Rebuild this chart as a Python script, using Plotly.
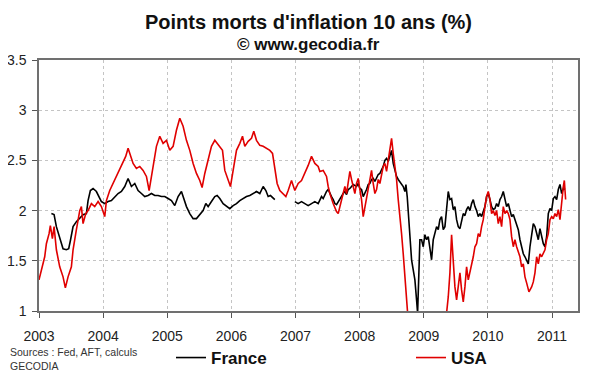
import plotly.graph_objects as go

# ---------------- data (decimal years) ----------------
france_t = [2003.193, 2003.235, 2003.271, 2003.323, 2003.375, 2003.427, 2003.463, 2003.489, 2003.531, 2003.583,
            2003.635, 2003.687, 2003.739, 2003.765, 2003.801, 2003.843, 2003.895, 2003.936, 2003.973, 2004.025,
            2004.077, 2004.129, 2004.181, 2004.233, 2004.285, 2004.337, 2004.389, 2004.441, 2004.493, 2004.545,
            2004.597, 2004.649, 2004.701, 2004.753, 2004.805, 2004.857, 2004.909, 2004.961, 2005.013, 2005.065,
            2005.117, 2005.169, 2005.221, 2005.247, 2005.299, 2005.351, 2005.403, 2005.455, 2005.507, 2005.559,
            2005.601, 2005.637, 2005.689, 2005.741, 2005.777, 2005.819, 2005.871, 2005.923, 2005.975, 2006.027,
            2006.079, 2006.131, 2006.183, 2006.235, 2006.287, 2006.339, 2006.391, 2006.443, 2006.495, 2006.537,
            2006.573, 2006.609, 2006.651, 2006.677, 2006.830, 2006.989, 2007.041, 2007.093, 2007.145, 2007.197,
            2007.249, 2007.301, 2007.353, 2007.379, 2007.405, 2007.431, 2007.457, 2007.483, 2007.509, 2007.535,
            2007.561, 2007.587, 2007.613, 2007.639, 2007.665, 2007.691, 2007.717, 2007.743, 2007.769, 2007.795,
            2007.821, 2007.847, 2007.873, 2007.899, 2007.951, 2007.977, 2008.003, 2008.029, 2008.055, 2008.081,
            2008.107, 2008.133, 2008.159, 2008.185, 2008.211, 2008.237, 2008.263, 2008.289, 2008.315, 2008.341,
            2008.367, 2008.393, 2008.419, 2008.445, 2008.471, 2008.497, 2008.523, 2008.549, 2008.575, 2008.601,
            2008.627, 2008.653, 2008.679, 2008.705, 2008.721, 2008.741, 2008.757, 2008.783, 2008.809, 2008.835,
            2008.861, 2008.887, 2008.903, 2008.923, 2008.939, 2008.965, 2008.991, 2009.017, 2009.043, 2009.069,
            2009.095, 2009.121, 2009.147, 2009.173, 2009.199, 2009.225, 2009.251, 2009.277, 2009.303, 2009.329,
            2009.355, 2009.381, 2009.407, 2009.433, 2009.459, 2009.485, 2009.511, 2009.537, 2009.563, 2009.589,
            2009.615, 2009.641, 2009.667, 2009.693, 2009.719, 2009.745, 2009.771, 2009.797, 2009.823, 2009.849,
            2009.875, 2009.901, 2009.927, 2009.953, 2009.979, 2010.005, 2010.031, 2010.057, 2010.083, 2010.109,
            2010.135, 2010.161, 2010.187, 2010.213, 2010.239, 2010.265, 2010.291, 2010.317, 2010.343, 2010.369,
            2010.395, 2010.421, 2010.447, 2010.473, 2010.499, 2010.525, 2010.551, 2010.577, 2010.603, 2010.629,
            2010.655, 2010.681, 2010.707, 2010.733, 2010.759, 2010.785, 2010.811, 2010.837, 2010.863, 2010.889,
            2010.915, 2010.941, 2010.967, 2010.993, 2011.019, 2011.045, 2011.071, 2011.097, 2011.123, 2011.149,
            2011.175, 2011.201]
france_v = [1.97, 1.96, 1.84, 1.74, 1.62, 1.61, 1.62, 1.70, 1.84, 1.89,
            1.92, 1.96, 1.97, 2.10, 2.20, 2.22, 2.19, 2.14, 2.09, 2.07,
            2.09, 2.10, 2.14, 2.17, 2.19, 2.24, 2.32, 2.24, 2.27, 2.20,
            2.17, 2.14, 2.15, 2.17, 2.15, 2.15, 2.14, 2.14, 2.12, 2.10,
            2.05, 2.14, 2.19, 2.14, 2.04, 1.97, 1.92, 1.92, 1.96, 2.00,
            2.07, 2.04, 2.09, 2.14, 2.15, 2.12, 2.07, 2.04, 2.02, 2.05,
            2.07, 2.10, 2.12, 2.14, 2.15, 2.17, 2.19, 2.17, 2.24, 2.20,
            2.14, 2.15, 2.12, 2.11, None, 2.09, 2.07, 2.09, 2.07, 2.05,
            2.07, 2.09, 2.07, 2.11, 2.14, 2.12, 2.16, 2.19, 2.21, 2.17,
            2.14, 2.11, 2.07, 2.06, 2.09, 2.12, 2.14, 2.17, 2.19, 2.16,
            2.21, 2.22, 2.24, 2.26, 2.24, 2.27, 2.22, 2.21, 2.14, 2.17,
            2.21, 2.26, 2.27, 2.31, 2.32, 2.29, 2.32, 2.36, 2.37, 2.40,
            2.44, 2.50, 2.52, 2.49, 2.54, 2.60, 2.47, 2.40, 2.34, 2.31,
            2.29, 2.27, 2.24, 2.19, 2.26, 2.14, 1.97, 1.71, 1.51, 1.41,
            1.31, 1.11, 0.98, 1.38, 1.71, 1.71, 1.64, 1.76, 1.71, 1.74,
            1.64, 1.51, 1.71, 1.77, 1.84, 1.81, 1.91, 1.94, 1.81, 1.84,
            2.04, 2.19, 2.11, 2.12, 2.01, 2.04, 1.91, 1.84, 1.82, 1.91,
            1.97, 1.95, 2.01, 2.04, 2.00, 2.07, 2.11, 2.04, 2.00, 1.94,
            1.97, 1.94, 1.99, 2.04, 2.14, 2.17, 2.11, 2.04, 2.01, 2.02,
            2.07, 2.04, 2.11, 2.14, 2.19, 2.11, 2.04, 2.07, 2.00, 1.94,
            1.96, 1.91, 1.87, 1.81, 1.71, 1.64, 1.57, 1.54, 1.51, 1.47,
            1.64, 1.77, 1.87, 1.84, 1.77, 1.71, 1.82, 1.74, 1.67, 1.64,
            1.74, 1.97, 2.02, 2.00, 2.12, 2.14, 2.11, 2.21, 2.26, 2.17,
            2.22, 2.21]

usa_t = [2003.000, 2003.037, 2003.089, 2003.115, 2003.157, 2003.177, 2003.209, 2003.235, 2003.271, 2003.323,
         2003.375, 2003.411, 2003.453, 2003.505, 2003.531, 2003.583, 2003.635, 2003.661, 2003.687, 2003.729,
         2003.765, 2003.817, 2003.869, 2003.921, 2003.973, 2004.025, 2004.051, 2004.103, 2004.155, 2004.207,
         2004.259, 2004.311, 2004.352, 2004.389, 2004.425, 2004.467, 2004.519, 2004.571, 2004.623, 2004.675,
         2004.717, 2004.753, 2004.779, 2004.831, 2004.883, 2004.935, 2004.987, 2005.039, 2005.091, 2005.143,
         2005.195, 2005.247, 2005.299, 2005.351, 2005.403, 2005.455, 2005.507, 2005.543, 2005.585, 2005.637,
         2005.689, 2005.741, 2005.777, 2005.819, 2005.861, 2005.897, 2005.949, 2005.985, 2006.027, 2006.079,
         2006.131, 2006.173, 2006.209, 2006.261, 2006.313, 2006.349, 2006.391, 2006.443, 2006.495, 2006.547,
         2006.599, 2006.641, 2006.677, 2006.713, 2006.755, 2006.807, 2006.849, 2006.885, 2006.937, 2006.989,
         2007.041, 2007.093, 2007.145, 2007.197, 2007.249, 2007.301, 2007.353, 2007.379, 2007.431, 2007.483,
         2007.509, 2007.535, 2007.587, 2007.639, 2007.665, 2007.691, 2007.743, 2007.769, 2007.795, 2007.821,
         2007.847, 2007.873, 2007.899, 2007.925, 2007.951, 2007.977, 2008.003, 2008.029, 2008.055, 2008.081,
         2008.107, 2008.133, 2008.159, 2008.185, 2008.211, 2008.237, 2008.263, 2008.289, 2008.315, 2008.341,
         2008.367, 2008.393, 2008.419, 2008.445, 2008.471, 2008.497, 2008.523, 2008.549, 2008.575, 2008.601,
         2008.627, 2008.653, 2008.679, 2008.705, 2008.721, 2008.737, 2008.780, 2008.850, 2008.920, 2009.000,
         2009.100, 2009.200, 2009.300, 2009.355, 2009.381, 2009.407, 2009.433, 2009.459, 2009.485, 2009.511,
         2009.537, 2009.563, 2009.589, 2009.615, 2009.641, 2009.667, 2009.693, 2009.719, 2009.745, 2009.771,
         2009.797, 2009.823, 2009.849, 2009.875, 2009.901, 2009.927, 2009.953, 2009.979, 2010.005, 2010.031,
         2010.057, 2010.083, 2010.109, 2010.135, 2010.161, 2010.187, 2010.213, 2010.239, 2010.265, 2010.291,
         2010.317, 2010.343, 2010.369, 2010.395, 2010.421, 2010.447, 2010.499, 2010.525, 2010.551, 2010.577,
         2010.603, 2010.639, 2010.681, 2010.707, 2010.733, 2010.759, 2010.785, 2010.811, 2010.837, 2010.863,
         2010.889, 2010.915, 2010.941, 2010.967, 2010.993, 2011.019, 2011.045, 2011.071, 2011.097, 2011.123,
         2011.149, 2011.175, 2011.191, 2011.211]
usa_v = [1.31, 1.42, 1.54, 1.67, 1.77, 1.85, 1.72, 1.84, 1.61, 1.44,
         1.34, 1.23, 1.34, 1.44, 1.61, 1.81, 2.00, 2.04, 1.87, 1.97,
         2.00, 2.07, 2.04, 2.09, 2.04, 1.94, 2.10, 2.20, 2.27, 2.34,
         2.40, 2.47, 2.54, 2.62, 2.54, 2.47, 2.42, 2.44, 2.40, 2.34,
         2.20, 2.34, 2.44, 2.64, 2.74, 2.67, 2.70, 2.60, 2.64, 2.80,
         2.92, 2.84, 2.70, 2.60, 2.47, 2.37, 2.30, 2.23, 2.37, 2.50,
         2.64, 2.70, 2.67, 2.64, 2.60, 2.40, 2.30, 2.24, 2.40, 2.60,
         2.67, 2.74, 2.64, 2.69, 2.72, 2.79, 2.70, 2.65, 2.64, 2.62,
         2.60, 2.57, 2.40, 2.27, 2.20, 2.17, 2.14, 2.20, 2.30, 2.20,
         2.27, 2.30, 2.37, 2.45, 2.54, 2.47, 2.44, 2.39, 2.40, 2.34,
         2.24, 2.17, 2.07, 1.99, 1.97, 2.04, 2.17, 2.24, 2.17, 2.31,
         2.39, 2.31, 2.24, 2.17, 2.27, 2.32, 2.21, 2.11, 1.94, 2.04,
         2.11, 2.21, 2.34, 2.40, 2.27, 2.17, 2.21, 2.31, 2.27, 2.34,
         2.44, 2.47, 2.39, 2.50, 2.60, 2.72, 2.57, 2.45, 2.31, 2.11,
         1.97, 1.77, 1.57, 1.34, 1.11, 0.95, 0.70, 0.40, 0.15, 0.10,
         0.25, 0.55, 0.85, 0.98, 1.14, 1.38, 1.76, 1.51, 1.24, 1.11,
         1.24, 1.38, 1.21, 1.09, 1.24, 1.44, 1.31, 1.38, 1.44, 1.54,
         1.64, 1.67, 1.77, 1.74, 1.84, 1.91, 2.04, 2.14, 2.19, 2.11,
         1.97, 2.00, 1.95, 2.00, 1.87, 1.94, 1.84, 2.04, 1.97, 2.00,
         1.97, 1.91, 1.74, 1.64, 1.71, 1.64, 1.54, 1.44, 1.47, 1.34,
         1.28, 1.19, 1.24, 1.29, 1.38, 1.54, 1.47, 1.57, 1.54, 1.57,
         1.61, 1.71, 1.77, 1.91, 1.94, 1.92, 1.97, 1.94, 2.01, 1.91,
         2.11, 2.24, 2.30, 2.11]

year_ticks = [2003, 2004, 2005, 2006, 2007, 2008, 2009, 2010, 2011]
y_ticks = [1, 1.5, 2, 2.5, 3, 3.5]

FONT = "Liberation Sans, Arial, sans-serif"

# The page body adds an 8px margin, so the figure is 8px smaller and all
# positions below are given in figure pixels (screen pixels minus 8).
W, H = 592, 364
L, R, T, B = 31, 22, 52, 61
PW, PH = W - L - R, H - T - B


def px(fx):
    return (fx - L) / PW


def py(fy):
    return (H - B - fy) / PH


fig = go.Figure()
fig.add_trace(go.Scatter(x=france_t, y=france_v, mode="lines", name="France",
                         line=dict(color="#000000", width=1.6), connectgaps=False,
                         legend="legend"))
fig.add_trace(go.Scatter(x=usa_t, y=usa_v, mode="lines", name="USA",
                         line=dict(color="#e00000", width=1.6),
                         legend="legend2"))

axis_common = dict(showline=True, linecolor="#707070", linewidth=1.5, mirror=True,
                   showgrid=True, gridcolor="#c4c4c4", griddash="dot", gridwidth=1,
                   zeroline=False, ticks="outside", ticklen=5, tickcolor="#555555",
                   automargin=False,
                   tickfont=dict(family=FONT, size=14, color="#222222"))

fig.update_xaxes(range=[2003, 2011.404], tickvals=year_ticks,
                 ticktext=[str(y) for y in year_ticks], ticklabelstandoff=6, **axis_common)
fig.update_yaxes(range=[1, 3.5], tickvals=y_ticks,
                 ticktext=["1", "1.5", "2", "2.5", "3", "3.5"], ticklabelstandoff=3, **axis_common)

leg_common = dict(xref="container", yref="container", xanchor="left", yanchor="middle",
                  orientation="h", bgcolor="rgba(0,0,0,0)",
                  font=dict(family=FONT, size=17, weight="bold", color="#111111"))

fig.update_layout(
    width=W, height=H,
    margin=dict(l=L, r=R, t=T, b=B, autoexpand=False),
    paper_bgcolor="white", plot_bgcolor="white",
    font=dict(family=FONT, color="#111111"),
    showlegend=True,
    legend=dict(x=163 / W, y=1 - 350 / H, **leg_common),
    legend2=dict(x=403 / W, y=1 - 350 / H, **leg_common),
    annotations=[
        dict(text="<b>Points morts d'inflation 10 ans (%)</b>", xref="paper", yref="paper",
             x=px(300), y=py(14), xanchor="center", yanchor="middle",
             showarrow=False, font=dict(family=FONT, size=20, color="#111111")),
        dict(text="<b>© www.gecodia.fr</b>", xref="paper", yref="paper",
             x=px(300), y=py(36), xanchor="center", yanchor="middle",
             showarrow=False, font=dict(family=FONT, size=17, color="#111111")),
        dict(text="Sources : Fed, AFT, calculs<br>GECODIA", xref="paper", yref="paper",
             x=px(0), y=py(351), xanchor="left", yanchor="middle", align="left",
             showarrow=False, font=dict(family=FONT, size=10.5, color="#333333")),
    ],
)

fig.write_html("out.html")
